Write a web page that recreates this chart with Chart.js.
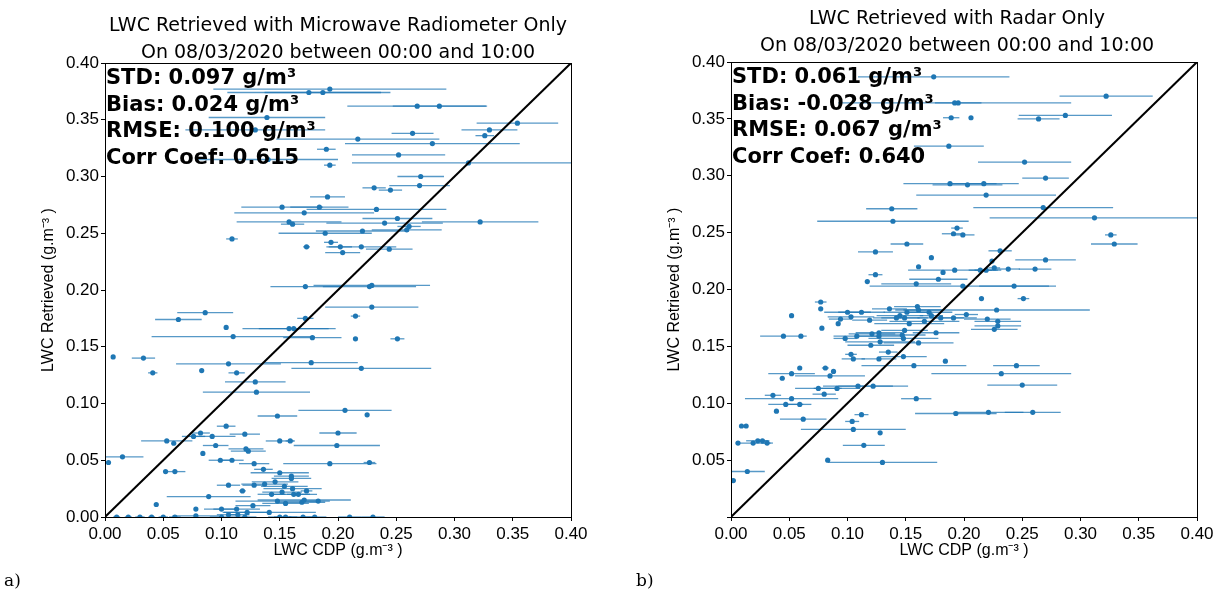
<!doctype html>
<html lang="en">
<head>
<meta charset="utf-8" />
<title>LWC retrieval comparison</title>
<script src="https://cdn.jsdelivr.net/npm/chart.js@4.4.4/dist/chart.umd.min.js"></script>
<style>
  body { margin: 0; width: 1221px; height: 598px; background: #fff; position: relative; overflow: hidden; font-family: "DejaVu Sans", sans-serif; }
  canvas { position: absolute; top: 0; }
  .title { position: absolute; text-align: center; font-size: 19px; line-height: 27px; color: #000; }
  .tag { position: absolute; top: 570px; font-family: "DejaVu Serif", serif; font-size: 17px; }
</style>
</head>
<body>
<canvas id="left" width="600" height="598" style="left:0;width:600px;height:598px"></canvas>
<canvas id="right" width="601" height="598" style="left:620px;width:601px;height:598px"></canvas>
<div class="title" style="left:38px;width:600px;top:11px">LWC Retrieved with Microwave Radiometer Only<br>On 08/03/2020 between 00:00 and 10:00</div>
<div class="title" style="left:657px;width:600px;top:4px">LWC Retrieved with Radar Only<br>On 08/03/2020 between 00:00 and 10:00</div>
<div class="tag" style="left:4px">a)</div>
<div class="tag" style="left:636px">b)</div>
<script>
// [x (CDP), y (retrieved), half-width of x error bar]
const mwrPoints = [
  [.193,.377,.10],[.175,.374,.07],[.187,.374,.05],[.268,.362,.06],[.287,.362,.04],[.139,.352,.05],
  [.129,.341,.06],[.354,.347,.035],[.330,.341,.024],[.326,.336,.008],[.264,.338,.018],[.217,.333,.07],
  [.281,.329,.075],[.190,.324,.008],[.252,.319,.04],[.140,.315,.06],[.312,.312,.10],[.193,.310,.005],
  [.271,.300,.02],[.270,.292,.026],[.231,.290,.01],[.245,.288,.01],[.191,.282,.015],[.152,.273,.035],
  [.184,.273,.025],[.233,.271,.06],[.171,.268,.06],[.251,.263,.03],[.158,.260,.045],[.161,.258,.01],
  [.240,.259,.05],[.322,.260,.05],[.261,.256,.01],[.259,.253,.03],[.221,.252,.04],[.189,.250,.04],
  [.109,.245,.005],[.194,.242,.006],[.173,.238,.003],[.202,.238,.01],[.220,.238,.03],[.244,.236,.02],
  [.204,.233,.015],[.229,.204,.05],[.172,.203,.03],[.227,.203,.04],
  [.229,.185,.04],[.086,.180,.024],[.063,.174,.02],[.172,.175,.007],[.215,.177,.004],[.104,.167,0],
  [.158,.166,.04],[.162,.166,.03],[.110,.159,.07],[.178,.158,.025],[.215,.157,0],[.251,.157,.006],
  [.007,.141,0],[.033,.140,.01],[.106,.135,.045],[.177,.136,.04],[.220,.131,.06],[.083,.129,0],
  [.041,.127,.004],[.113,.127,.007],[.129,.119,.026],[.130,.110,.046],[.206,.094,.04],[.225,.090,0],
  [.148,.089,.017],[.104,.080,.008],[.200,.074,.016],[.082,.074,.008],[.076,.071,.01],[.092,.071,.02],
  [.120,.073,.013],[.053,.067,.022],[.059,.065,0],[.150,.067,.012],[.159,.067,.004],[.199,.063,.037],
  [.095,.063,.011],[.121,.060,.015],[.123,.058,.015],[.084,.056,0],[.015,.053,.018],[.003,.048,0],
  [.099,.050,.01],[.109,.050,.01],[.128,.047,.013],[.193,.047,.04],[.227,.048,.005],[.052,.040,0],
  [.060,.040,.009],[.136,.042,.008],[.150,.039,.025],[.160,.036,.015],[.160,.034,.017],[.146,.031,.02],
  [.106,.028,.01],[.128,.028,.01],[.137,.029,.02],[.154,.027,.02],[.161,.025,.025],[.152,.022,.017],
  [.173,.023,.005],[.118,.023,.003],[.143,.020,.012],[.162,.020,.02],[.166,.020,.01],[.089,.018,.036],
  [.148,.014,.036],[.155,.012,.02],[.169,.013,.02],[.171,.015,.04],[.183,.014,.01],[.044,.011,0],
  [.127,.010,.015],[.078,.007,0],[.100,.007,.015],[.113,.007,.02],[.141,.004,.04],[.122,.004,.02],
  [.078,.001,.02],[.106,.002,.01],[.114,.002,.01],
  [.010,0,.003],[.020,0,.003],[.030,0,.004],[.040,0,.003],[.050,0,.004],[.060,0,.005],[.100,0,.01],
  [.120,0,.01],[.150,0,.01],[.170,0,.012],[.180,0,.01],[.210,0,.01],[.230,0,.01],[.155,0,.01]
];
const radarPoints = [
  [.174,.387,.065],[.322,.370,.04],[.192,.364,.10],[.195,.364,.02],[.189,.351,.007],[.206,.351,0],
  [.287,.353,.04],[.264,.350,.018],[.187,.326,.03],[.252,.312,.04],[.270,.298,.02],[.188,.293,.04],
  [.203,.292,.03],[.217,.293,.03],[.219,.283,.06],[.268,.272,.06],[.138,.271,.022],[.139,.260,.065],
  [.312,.263,.09],[.194,.254,.005],[.191,.249,.01],[.199,.248,.01],[.326,.248,.005],[.329,.240,.02],
  [.151,.240,.014],[.231,.234,.01],[.124,.233,.015],[.172,.228,0],[.270,.226,.026],[.161,.220,0],
  [.224,.225,0],[.226,.219,.005],[.192,.217,.04],[.182,.215,0],[.214,.217,.01],[.219,.217,.01],
  [.238,.218,.01],[.261,.218,.014],[.124,.213,.006],[.117,.207,0],[.159,.205,.03],[.178,.209,.025],
  [.199,.203,.08],[.243,.203,.03],
  [.215,.192,0],[.251,.192,.005],[.077,.189,.005],[.077,.183,0],[.052,.177,0],[.100,.180,.02],
  [.112,.180,.02],[.094,.174,.01],[.092,.170,0],[.103,.176,.02],[.119,.173,.015],[.136,.183,.015],
  [.145,.177,.02],[.151,.180,.02],[.160,.185,.02],[.161,.182,.02],[.170,.180,.02],[.172,.177,.01],
  [.180,.175,.02],[.191,.175,.02],[.202,.178,.01],[.220,.174,.02],[.228,.182,.08],[.229,.172,.02],
  [.229,.168,.02],[.226,.165,.02],[.153,.170,.03],[.166,.172,.03],[.142,.175,.02],[.149,.175,.02],
  [.078,.166,0],[.045,.159,.02],[.060,.159,0],[.098,.157,.01],[.108,.159,.02],[.121,.161,.02],
  [.127,.162,.02],[.127,.159,.02],[.147,.160,.02],[.149,.164,.02],[.176,.162,.02],[.148,.157,.03],
  [.161,.153,.03],[.128,.154,.03],[.120,.151,.02],[.135,.145,.008],[.103,.143,.005],[.105,.139,.01],
  [.127,.139,.015],[.148,.141,.02],[.184,.137,0],[.157,.133,.045],[.245,.133,.02],[.059,.131,0],
  [.081,.131,.003],[.088,.128,0],[.052,.126,.02],[.085,.124,.03],[.232,.126,.06],[.044,.122,0],
  [.075,.113,.02],[.091,.113,.02],[.109,.115,.03],[.122,.115,.03],[.250,.116,.03],[.080,.108,.01],
  [.036,.107,.007],[.052,.104,.04],[.159,.104,.013],[.047,.099,.015],[.059,.099,.01],[.039,.093,0],
  [.112,.090,.006],[.062,.086,.02],[.104,.084,.006],[.193,.091,.035],[.221,.092,.03],[.259,.092,.024],
  [.009,.080,0],[.013,.080,0],[.105,.077,.045],[.128,.074,0],[.006,.065,0],[.019,.065,.015],
  [.023,.067,.01],[.027,.067,.005],[.031,.065,.005],[.114,.063,.018],[.083,.050,0],[.130,.048,.047],
  [.014,.040,.015],[.002,.032,0]
];
const mwrStats = ["STD: 0.097 g/m³", "Bias: 0.024 g/m³", "RMSE: 0.100 g/m³", "Corr Coef: 0.615"];
const radarStats = ["STD: 0.061 g/m³", "Bias: -0.028 g/m³", "RMSE: 0.067 g/m³", "Corr Coef: 0.640"];
const tickValues = [0, .05, .10, .15, .20, .25, .30, .35, .40];

const BLUE = "#1f77b4";

// horizontal error bars, drawn from the point data through the scales
const errorBars = {
  id: "errorBars",
  beforeDatasetsDraw(chart) {
    const { ctx, scales: { x, y }, chartArea } = chart;
    const pts = chart.options.plugins.errorBars.points;
    ctx.save();
    ctx.beginPath();
    ctx.rect(chartArea.left, chartArea.top, chartArea.width, chartArea.height);
    ctx.clip();
    ctx.strokeStyle = "rgba(31,119,180,0.75)";
    ctx.lineWidth = 1.3;
    pts.forEach(([px, py, e]) => {
      if (!e) return;
      const yy = y.getPixelForValue(py);
      ctx.beginPath();
      ctx.moveTo(x.getPixelForValue(px - e), yy);
      ctx.lineTo(x.getPixelForValue(px + e), yy);
      ctx.stroke();
    });
    ctx.restore();
  },
  afterDraw(chart) {
    const { ctx, chartArea } = chart;
    const o = chart.options.plugins.errorBars;
    ctx.save();
    ctx.strokeStyle = "#000";
    ctx.lineWidth = 1;
    ctx.strokeRect(chartArea.left + 0.5, chartArea.top + 0.5, chartArea.width, chartArea.height);
    ctx.fillStyle = "#000";
    ctx.font = "bold 21px 'DejaVu Sans'";
    ctx.textBaseline = "alphabetic";
    o.stats.forEach((s, i) => ctx.fillText(s, chartArea.left + 1, chartArea.top + 21 + i * 26.5));
    ctx.restore();
  },
};

function makeChart(id, points, stats, yWidth, top, right, hideZero) {
  const tickFont = { family: "'Liberation Sans'", size: 17 };
  const titleFont = { family: "'Liberation Sans'", size: 16 };
  const scale = (title, isY) => ({
    type: "linear",
    min: 0,
    max: 0.4,
    afterBuildTicks: (s) => { s.ticks = tickValues.map((v) => ({ value: v })); },
    afterFit: (s) => { if (isY) s.width = yWidth; else s.height = 81; },
    ticks: {
      color: "#000",
      font: tickFont,
      padding: isY ? 2 : 3,
      callback: (v) => (isY && hideZero && v === 0 ? "" : v.toFixed(2)),
    },
    grid: { drawOnChartArea: false, drawTicks: true, tickLength: 4, color: "#000" },
    border: { color: "#000" },
    title: {
      display: true, text: title, color: "#000", font: titleFont,
      padding: isY ? { top: yWidth - 66, bottom: 0 } : { top: 38, bottom: 38 },
    },
  });
  return new Chart(document.getElementById(id), {
    type: "scatter",
    data: {
      datasets: [
        {
          type: "line",
          data: [{ x: 0, y: 0 }, { x: 0.4, y: 0.4 }],
          borderColor: "#000",
          borderWidth: 2,
          pointRadius: 0,
        },
        {
          data: points.map(([x, y]) => ({ x, y })),
          backgroundColor: BLUE,
          borderColor: BLUE,
          pointRadius: 2.6,
          borderWidth: 0,
        },
      ],
    },
    options: {
      responsive: false,
      animation: false,
      layout: { padding: { top, right, left: 0, bottom: 0 } },
      scales: {
        x: scale("LWC CDP (g.m⁻³ )", false),
        y: scale("LWC Retrieved (g.m⁻³ )", true),
      },
      plugins: {
        legend: { display: false },
        tooltip: { enabled: false },
        errorBars: { points, stats },
      },
    },
    plugins: [errorBars],
  });
}

makeChart("left", mwrPoints, mwrStats, 105, 63, 29, false);
makeChart("right", radarPoints, radarStats, 111, 62, 24, true);
</script>
</body>
</html>
